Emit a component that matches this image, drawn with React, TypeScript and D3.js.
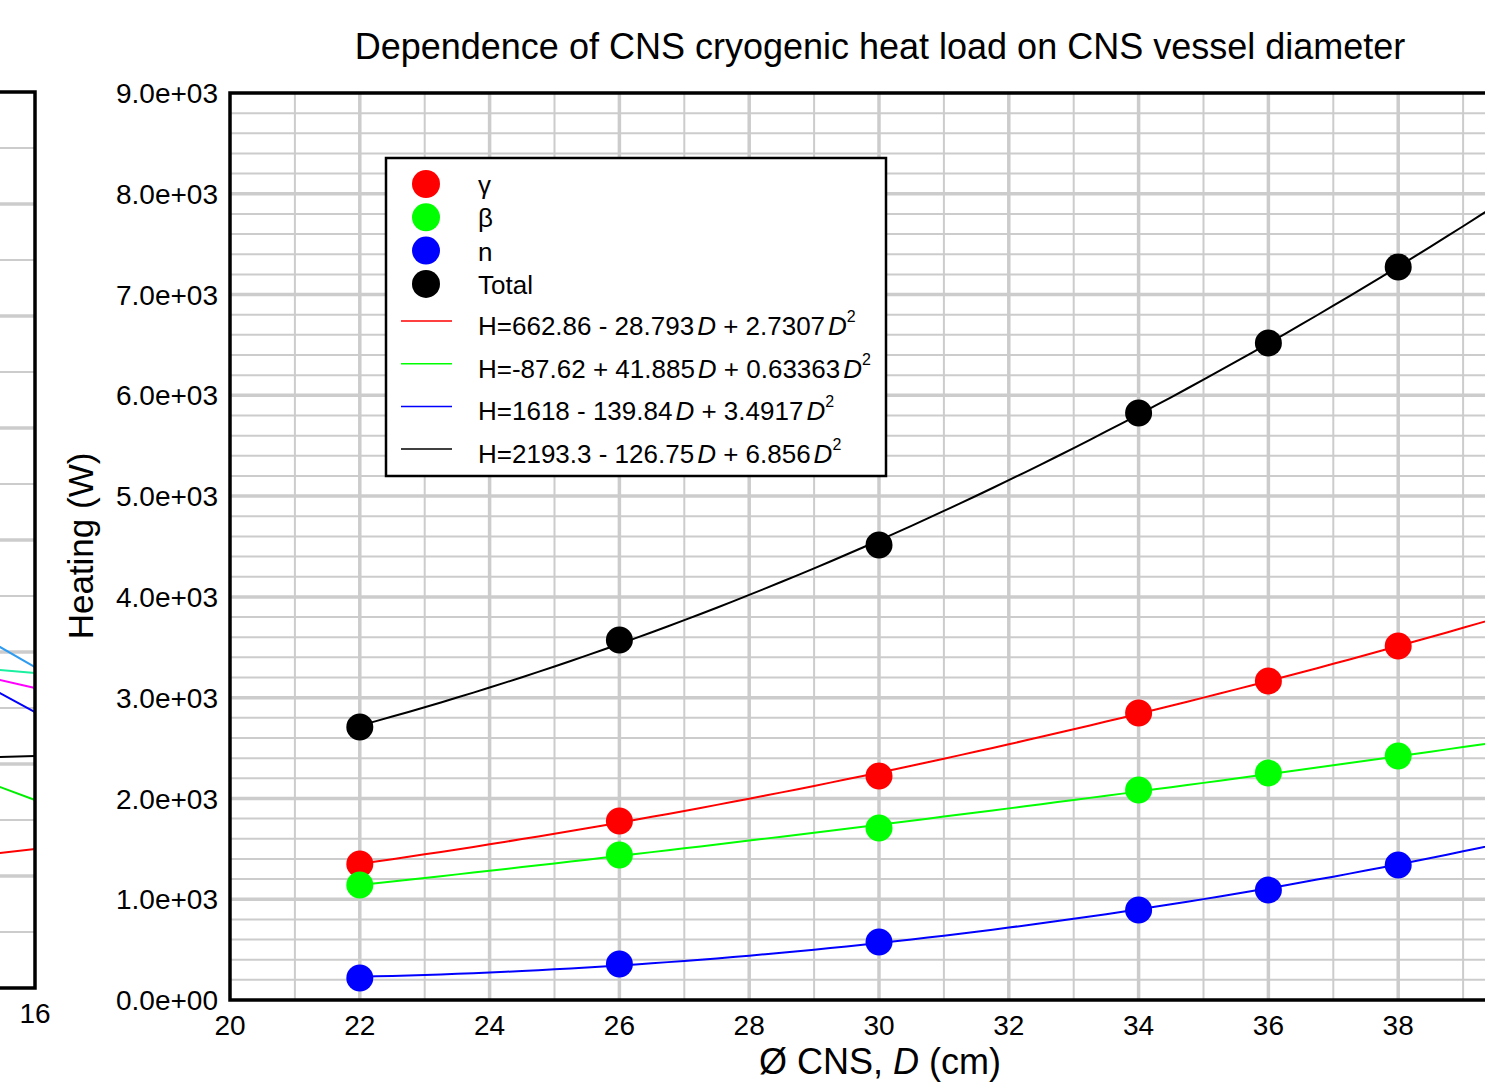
import { line, range, scaleLinear } from "d3"

// main chart: heat load vs vessel diameter
const diameters = [22, 26, 30, 34, 36, 38]
const gammaHeat = [1349, 1776, 2223, 2848, 3165, 3513]
const betaHeat = [1141, 1439, 1707, 2084, 2252, 2421]
const neutronHeat = [218, 357, 575, 893, 1091, 1340]
const totalHeat = [2709, 3572, 4515, 5825, 6519, 7273]

// quadratic fit coefficients H = a + bD + cD^2
const gammaFit = [662.86, -28.793, 2.7307]
const betaFit = [-87.62, 41.885, 0.63363]
const neutronFit = [1618, -139.84, 3.4917]
const totalFit = [2193.3, -126.75, 6.856]

const fitLabels = [
    ["H=662.86 - 28.793", " + 2.7307"],
    ["H=-87.62 + 41.885", " + 0.63363"],
    ["H=1618 - 139.84", " + 3.4917"],
    ["H=2193.3 - 126.75", " + 6.856"],
]
const pointLabels = ["γ", "β", "n", "Total"]
const seriesColors = ["#ff0000", "#00ff00", "#0000ff", "#000000"]

const xTicks = [20, 22, 24, 26, 28, 30, 32, 34, 36, 38, 40]
const yTicks = [0, 1000, 2000, 3000, 4000, 5000, 6000, 7000, 8000, 9000]

// the neighbouring chart, cut off at the left edge
const leftX = [15, 16]
const leftSeries = [
    { color: "#2f9bf0", values: [319.8, 286.6] },
    { color: "#1af0a0", values: [286.2, 281.3] },
    { color: "#ff00ff", values: [281.1, 267.9] },
    { color: "#0000ff", values: [277.9, 246.4] },
    { color: "#000000", values: [205.5, 207.1] },
    { color: "#00ee00", values: [189.4, 167.9] },
    { color: "#ff0000", values: [117.4, 124.1] },
]

const W = 1485
const H = 1083
const font = "'Liberation Sans', Arial, Helvetica, sans-serif"
const gridColor = "#cccccc"

const expFormat = (v: number) => {
    const [m, e] = v.toExponential(1).split("e")
    const sign = e[0] === "-" ? "-" : "+"
    const digits = e.replace(/[+-]/, "").padStart(2, "0")
    return `${m}e${sign}${digits}`
}

const App = () => {
    const x = scaleLinear().domain([20, 40]).range([230, 1528])
    const y = scaleLinear().domain([0, 9000]).range([1000, 93])

    const lx = scaleLinear().domain([15, 16]).range([-30, 35])
    const ly = scaleLinear().domain([0, 800]).range([988, 92])

    const fitD = range(22, 40.01, 0.25)
    const fitLine = (c: number[]) => line<number>()
        .x(d => x(d))
        .y(d => y(c[0] + c[1] * d + c[2] * d * d))(fitD)

    const points = [gammaHeat, betaHeat, neutronHeat, totalHeat]
    const fits = [gammaFit, betaFit, neutronFit, totalFit]

    const leftLine = line<number>().x((_, i) => lx(leftX[i])).y(d => ly(d))

    return (
        <svg width={W} height={H} style={{ position: "absolute", left: 0, top: 0, background: "#fff" }} fontFamily={font}>
            <defs>
                <clipPath id="plot">
                    <rect x={x(20)} y={y(9000)} width={x(40) - x(20)} height={y(0) - y(9000)} />
                </clipPath>
            </defs>

            {/* left neighbour chart */}
            <g>
                {range(50, 800, 50).map(v => (
                    <line key={v} x1={-10} x2={lx(16)} y1={ly(v)} y2={ly(v)}
                        stroke={gridColor} strokeWidth={v % 100 === 0 ? 3.5 : 2} />
                ))}
                {leftSeries.map((s, i) => (
                    <path key={i} d={leftLine(s.values)} fill="none" stroke={s.color} strokeWidth={2} />
                ))}
                <rect x={-20} y={ly(800)} width={lx(16) + 20} height={ly(0) - ly(800)}
                    fill="none" stroke="#000" strokeWidth={3.5} />
                <text x={lx(16)} y={1023} textAnchor="middle" fontSize={28}>16</text>
            </g>

            {/* grid */}
            <g>
                {range(21, 40, 1).filter(v => v % 2 !== 0).map(v => (
                    <line key={"xm" + v} x1={x(v)} x2={x(v)} y1={y(0)} y2={y(9000)} stroke={gridColor} strokeWidth={2} />
                ))}
                {range(200, 9000, 200).filter(v => v % 1000 !== 0).map(v => (
                    <line key={"ym" + v} x1={x(20)} x2={x(40)} y1={y(v)} y2={y(v)} stroke={gridColor} strokeWidth={2} />
                ))}
                {xTicks.slice(1, -1).map(v => (
                    <line key={"xM" + v} x1={x(v)} x2={x(v)} y1={y(0)} y2={y(9000)} stroke={gridColor} strokeWidth={3.5} />
                ))}
                {yTicks.slice(1, -1).map(v => (
                    <line key={"yM" + v} x1={x(20)} x2={x(40)} y1={y(v)} y2={y(v)} stroke={gridColor} strokeWidth={3.5} />
                ))}
            </g>

            {/* fits and points */}
            <g clipPath="url(#plot)">
                {fits.map((c, i) => (
                    <path key={i} d={fitLine(c) ?? ""} fill="none" stroke={seriesColors[i]} strokeWidth={2} />
                ))}
                {points.map((vals, i) => vals.map((v, j) => (
                    <circle key={i + "-" + j} cx={x(diameters[j])} cy={y(v)} r={13.5} fill={seriesColors[i]} />
                )))}
            </g>

            {/* frame */}
            <rect x={x(20)} y={y(9000)} width={x(40) - x(20)} height={y(0) - y(9000)}
                fill="none" stroke="#000" strokeWidth={3.5} />

            {/* axes labels */}
            {yTicks.map(v => (
                <text key={v} x={218} y={y(v)} dy="0.36em" textAnchor="end" fontSize={28}>{expFormat(v)}</text>
            ))}
            {xTicks.filter(v => x(v) + 20 < W).map(v => (
                <text key={v} x={x(v)} y={1035} textAnchor="middle" fontSize={28}>{v}</text>
            ))}
            <text x={880} y={1074} textAnchor="middle" fontSize={36}>
                Ø CNS, <tspan fontStyle="italic">D</tspan> (cm)
            </text>
            <text transform="translate(93,546) rotate(-90)" textAnchor="middle" fontSize={35}>Heating (W)</text>
            <text x={880} y={59} textAnchor="middle" fontSize={36}>
                Dependence of CNS cryogenic heat load on CNS vessel diameter
            </text>

            {/* legend */}
            <g>
                <rect x={386} y={158} width={500} height={318} fill="#fff" stroke="#000" strokeWidth={2.5} />
                {pointLabels.map((t, i) => (
                    <g key={t}>
                        <circle cx={426} cy={184 + i * 33.3} r={14} fill={seriesColors[i]} />
                        <text x={478} y={194 + i * 33.3} fontSize={26}>{t}</text>
                    </g>
                ))}
                {fitLabels.map((t, i) => (
                    <g key={i}>
                        <line x1={401} x2={452} y1={321 + i * 42.7} y2={321 + i * 42.7} stroke={seriesColors[i]} strokeWidth={1.5} />
                        <text x={478} y={335 + i * 42.7} fontSize={26}>
                            {t[0]}
                            <tspan dx={3} fontStyle="italic">D</tspan>
                            {t[1]}
                            <tspan dx={3} fontStyle="italic">D</tspan>
                            <tspan dx={0} dy={-13} fontSize={16}>2</tspan>
                        </text>
                    </g>
                ))}
            </g>
        </svg>
    )
}

export default App
